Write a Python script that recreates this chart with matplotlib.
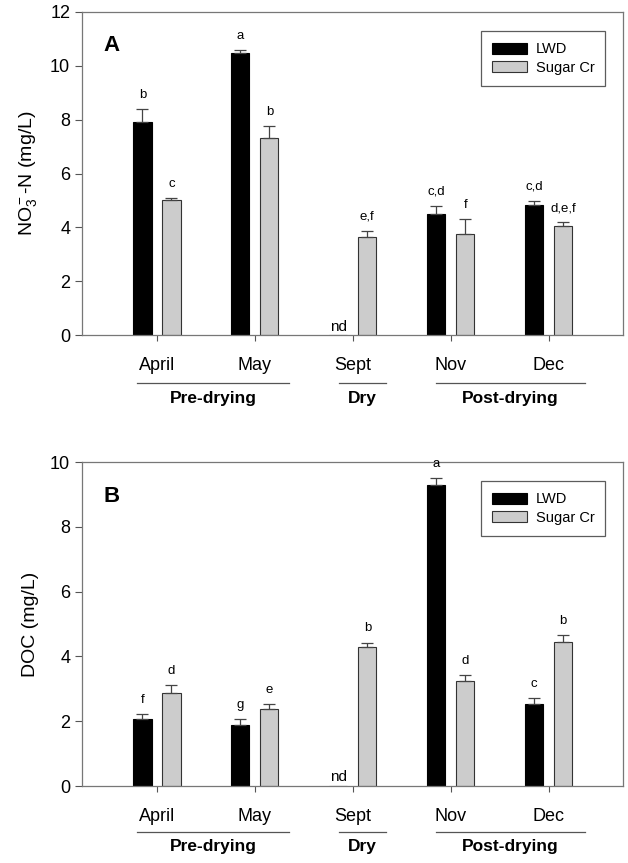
import numpy as np
import matplotlib
matplotlib.use("Agg")
import matplotlib.pyplot as plt
import matplotlib.transforms as mtrans

plt.rcParams['font.family'] = ['Liberation Sans', 'DejaVu Sans']
plt.rcParams['mathtext.fontset'] = 'custom'
plt.rcParams['mathtext.rm'] = 'Liberation Sans'
plt.rcParams['mathtext.it'] = 'Liberation Sans'

months = ["April", "May", "Sept", "Nov", "Dec"]
groups = ["Pre-drying", "Dry", "Post-drying"]
group_span = [(-0.2, 1.35), (1.86, 2.34), (2.85, 4.37)]

# panel A: nitrate
no3_lwd = [7.92, 10.49, 0.0, 4.49, 4.82]
no3_lwd_se = [0.47, 0.11, 0.0, 0.32, 0.16]
no3_sug = [5.0, 7.31, 3.63, 3.74, 4.04]
no3_sug_se = [0.10, 0.46, 0.25, 0.56, 0.15]
no3_lwd_let = ["b", "a", "", "c,d", "c,d"]
no3_sug_let = ["c", "b", "e,f", "f", "d,e,f"]

# panel B: DOC
doc_lwd = [2.06, 1.87, 0.0, 9.29, 2.53]
doc_lwd_se = [0.16, 0.19, 0.0, 0.23, 0.18]
doc_sug = [2.86, 2.37, 4.28, 3.25, 4.45]
doc_sug_se = [0.27, 0.15, 0.15, 0.18, 0.21]
doc_lwd_let = ["f", "g", "", "a", "c"]
doc_sug_let = ["d", "e", "b", "d", "b"]

fig = plt.figure(figsize=(6.28, 8.63), dpi=100)
axA = fig.add_axes([0.1306, 0.6118, 0.861, 0.3743])
axB = fig.add_axes([0.1306, 0.0892, 0.861, 0.3754])

x = np.arange(len(months))
w = 0.185
off = 0.148


def panel(ax, lwd, lwd_se, sug, sug_se, lwd_let, sug_let, ymax, ylabel, tag, line_y, text_y):
    ax.bar(x - off, lwd, w, color="black", edgecolor="black", linewidth=0.8, label="LWD", zorder=2)
    ax.bar(x + off, sug, w, color="#cccccc", edgecolor="#333333", linewidth=0.8, label="Sugar Cr", zorder=2)
    for i in range(len(x)):
        if lwd[i] > 0:
            ax.errorbar(x[i] - off, lwd[i], yerr=[[0], [lwd_se[i]]], color="#444444",
                        capsize=4, elinewidth=0.9, capthick=0.9, zorder=3)
        ax.errorbar(x[i] + off, sug[i], yerr=[[0], [sug_se[i]]], color="#444444",
                    capsize=4, elinewidth=0.9, capthick=0.9, zorder=3)
        pad = ymax * 0.025
        if lwd_let[i]:
            ax.text(x[i] - off, lwd[i] + lwd_se[i] + pad, lwd_let[i], ha="center", va="bottom", fontsize=9.5)
        ax.text(x[i] + off, sug[i] + sug_se[i] + pad, sug_let[i], ha="center", va="bottom", fontsize=9.5)
        if lwd[i] == 0:
            ax.text(x[i] - off, 0.05, "nd", ha="center", va="bottom", fontsize=11)
    ax.set_xlim(-0.765, 4.755)
    ax.set_ylim(0, ymax)
    ax.set_yticks(np.arange(0, ymax + 1, 2))
    ax.set_xticks(x)
    ax.set_xticklabels(months, fontsize=13)
    ax.tick_params(axis="y", labelsize=13, direction="out", length=5, color="#555555")
    ax.tick_params(axis="x", direction="out", length=4, pad=12, color="#555555")
    for s in ax.spines.values():
        s.set_color("#777777")
        s.set_linewidth(0.9)
    ax.set_ylabel(ylabel, fontsize=14, labelpad=8)
    ax.text(-0.55, ymax * 0.895, tag, fontsize=16, fontweight="bold", ha="left", va="center")
    leg = ax.legend(loc="upper right", bbox_to_anchor=(0.968, 0.94), fontsize=10.5, frameon=True,
                    fancybox=False, edgecolor="#333333", handlelength=2.4, handleheight=0.8,
                    handletextpad=0.6, borderpad=0.75, labelspacing=0.3, borderaxespad=0)
    leg.get_frame().set_linewidth(0.9)
    tr = mtrans.blended_transform_factory(ax.transData, ax.transAxes)
    for g, (a, b) in zip(groups, group_span):
        ax.plot([a, b], [line_y, line_y], color="#555555", lw=0.9, transform=tr, clip_on=False)
        ax.text((a + b) / 2, text_y, g, transform=tr, ha="center", va="center",
                fontsize=12.5, fontweight="bold")


panel(axA, no3_lwd, no3_lwd_se, no3_sug, no3_sug_se, no3_lwd_let, no3_sug_let, 12,
      r"NO$_3^-$-N (mg/L)", "A", -0.149, -0.195)
panel(axB, doc_lwd, doc_lwd_se, doc_sug, doc_sug_se, doc_lwd_let, doc_sug_let, 10,
      "DOC (mg/L)", "B", -0.141, -0.187)

fig.savefig("out.png", dpi=100)
